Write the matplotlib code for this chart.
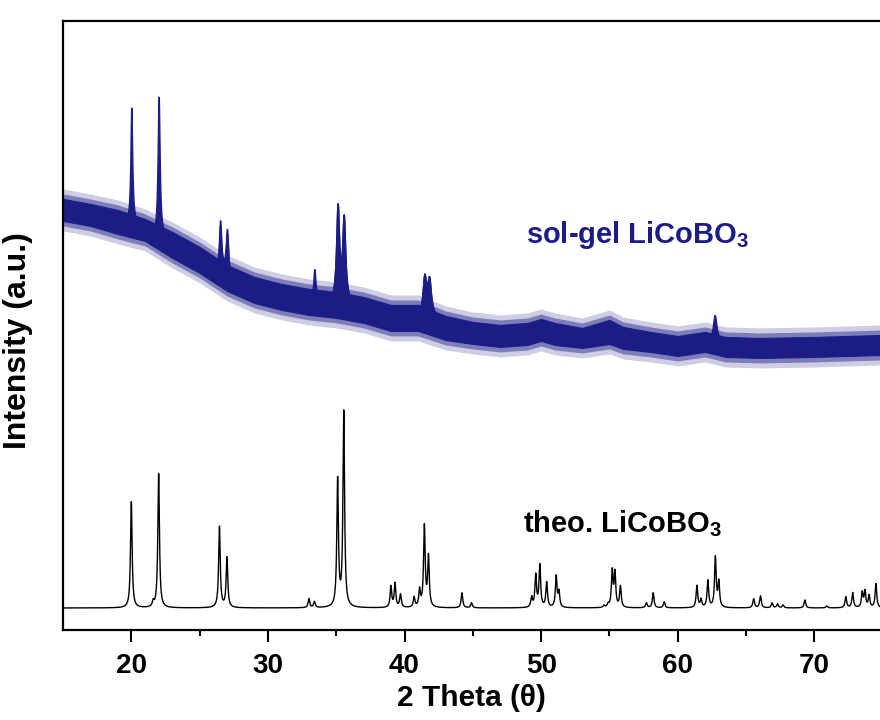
import numpy as np
import matplotlib
matplotlib.use("Agg")
import matplotlib.pyplot as plt

plt.rcParams['font.family'] = ['Liberation Sans', 'DejaVu Sans']
plt.rcParams['font.weight'] = 'bold'
plt.rcParams['mathtext.fontset'] = 'custom'
plt.rcParams['mathtext.bf'] = 'Liberation Sans:bold'
plt.rcParams['mathtext.rm'] = 'Liberation Sans:bold'

# theoretical pattern: peak position (2 theta), peak height above baseline
theo_base = 22
theo_pos = [20.0, 21.6, 22.0, 26.45, 27.0, 33.0, 33.4, 35.1, 35.55, 39.0, 39.3, 39.7,
            40.7, 41.1, 41.45, 41.75, 44.2, 44.9, 49.3, 49.6, 49.9, 50.4, 51.1, 51.3,
            54.6, 54.9, 55.2, 55.4, 55.8, 57.7, 58.2, 59.0, 61.4, 61.7, 62.2, 62.75,
            63.0, 65.55, 66.05, 66.9, 67.3, 67.7, 69.3, 70.9, 72.3, 72.8, 73.5, 73.7,
            74.0, 74.5]
theo_height = [106, 5, 134, 81, 50, 9, 6, 127, 195, 21, 24, 13,
               10, 17, 81, 50, 15, 5, 10, 32, 42, 25, 31, 15,
               2, 3, 36, 34, 21, 5, 15, 6, 22, 8, 27, 50,
               25, 9, 12, 5, 4, 3, 8, 2, 11, 15, 15, 16,
               12, 24]
theo_width = 0.07

# sol-gel measurement: noisy background band (upper / lower edge of the dense part)
exp_x = [15, 17, 19, 21, 23, 25, 27, 29, 31, 33, 35, 37, 39, 41, 43, 45, 47, 49,
         50, 51, 53, 55, 56, 58, 60, 62, 63.5, 66, 70, 75]
exp_hi = [431, 426, 420, 411, 398, 383, 365, 353, 346, 341, 338, 333, 325, 325, 314,
          308, 305, 307, 311, 307, 302, 310, 303, 298, 294, 298, 293, 292, 293, 295]
exp_lo = [409, 404, 396, 389, 372, 357, 339, 327, 320, 315, 312, 307, 299, 299, 290,
          286, 283, 285, 289, 285, 282, 286, 281, 278, 274, 278, 273, 272, 273, 275]

# sol-gel measurement: sharp reflections sitting on the band
exp_pos = [20.0, 22.0, 26.5, 27.0, 33.4, 35.1, 35.55, 41.45, 41.8, 62.7]
exp_base = [406, 392, 358, 353, 328, 325, 325, 312, 312, 288]
exp_height = [116, 141, 50, 41, 32, 95, 83, 38, 35, 27]
exp_width = [0.08, 0.09, 0.1, 0.1, 0.1, 0.13, 0.13, 0.16, 0.16, 0.16]

navy = '#1c1c86'


def lorentz_sum(xs, pos, height, width):
    total = np.zeros_like(xs)
    for c, h, w in zip(pos, height, width):
        total += h / (1 + ((xs - c) / w) ** 2)
    return total


fig = plt.figure(figsize=(8.8, 7.2), dpi=100)
ax = fig.add_axes([0.0716, 0.125, 0.9284, 0.846])

# theoretical curve
xs = np.linspace(15, 75, 12001)
theo_y = theo_base + lorentz_sum(xs, theo_pos, theo_height, [theo_width] * len(theo_pos))
ax.plot(xs, theo_y, color='black', lw=1.0)

# measured curve: background band, fuzzy rim + dense core
exp_hi = np.array(exp_hi)
exp_lo = np.array(exp_lo)
ax.fill_between(exp_x, exp_lo - 10, exp_hi + 10, color=navy, alpha=0.22, lw=0)
ax.fill_between(exp_x, exp_lo - 5, exp_hi + 5, color=navy, alpha=0.45, lw=0)
ax.fill_between(exp_x, exp_lo, exp_hi, color=navy, lw=0.8, edgecolor=navy)

# measured curve: peaks
for c, b, w in zip(exp_pos, exp_base, exp_width):
    px = np.linspace(c - 6 * w, c + 6 * w, 400)
    py = b + lorentz_sum(px, exp_pos, exp_height, exp_width)
    ax.fill_between(px, b, py, color=navy, lw=1.0, edgecolor=navy)

ax.text(48.9, 395, r'sol-gel LiCoBO$_\mathbf{3}$', color=navy, fontsize=21,
        fontweight='bold', va='center')
ax.text(48.7, 106, r'theo. LiCoBO$_\mathbf{3}$', color='black', fontsize=21,
        fontweight='bold', va='center')

ax.set_xlim(15, 74.8)
ax.set_ylim(0, 609)
ax.set_yticks([])
ax.set_xticks([20, 30, 40, 50, 60, 70])
ax.set_xticks([25, 35, 45, 55, 65], minor=True)
ax.tick_params(axis='x', which='major', direction='out', length=8.5, width=1.5,
               labelsize=20, pad=8)
ax.tick_params(axis='x', which='minor', direction='out', length=4, width=1.5)
for lbl in ax.get_xticklabels():
    lbl.set_fontweight('bold')
for side in ['left', 'bottom', 'top']:
    ax.spines[side].set_linewidth(1.6)
ax.spines['right'].set_visible(False)

ax.set_xlabel('2 Theta (θ)', fontsize=21.5, fontweight='bold', labelpad=4)
ax.set_ylabel('Intensity (a.u.)', fontsize=23, fontweight='bold')
ax.yaxis.set_label_coords(-0.037, 0.475)

fig.savefig('out.png', dpi=100)
